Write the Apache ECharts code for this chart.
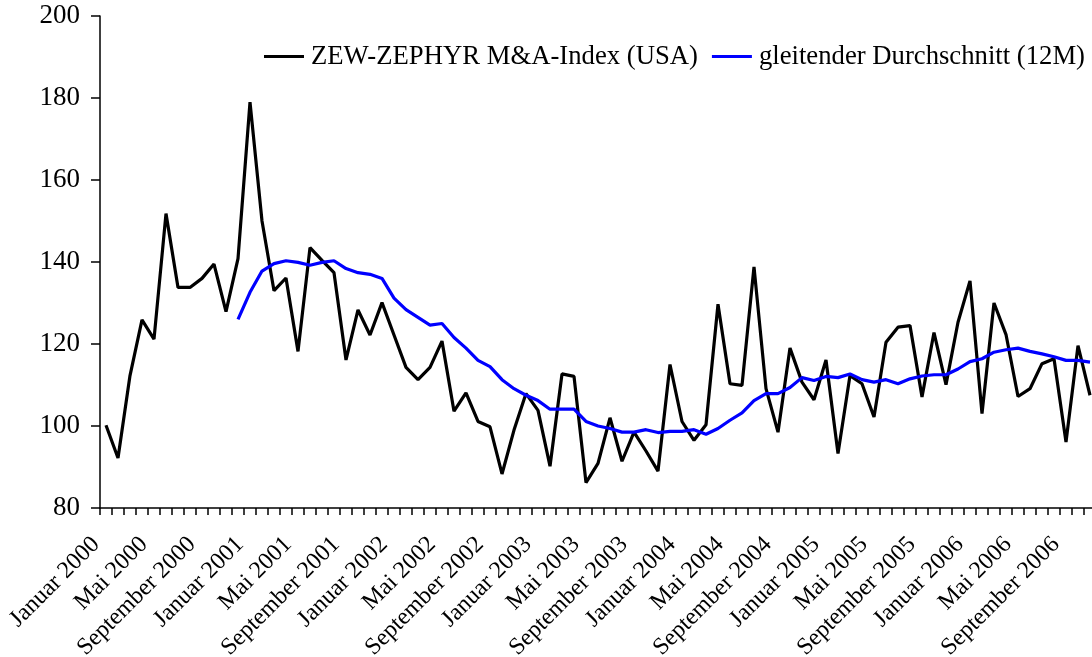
<!DOCTYPE html>
<html>
<head>
<meta charset="utf-8">
<script src="https://cdn.jsdelivr.net/npm/echarts@6/dist/echarts.min.js"></script>
<style>
html,body{margin:0;padding:0;background:#fff;overflow:hidden;}
#chart{width:1092px;height:657px;}
</style>
</head>
<body>
<div id="chart"></div>
<script>
const monthNames = ['Januar','Februar','März','April','Mai','Juni','Juli','August','September','Oktober','November','Dezember'];
const years = [2000, 2001, 2002, 2003, 2004, 2005, 2006];
const categories = [];
years.forEach(y => monthNames.forEach(m => categories.push(m + ' ' + y)));

const seriesNames = ['ZEW-ZEPHYR M&A-Index (USA)', 'gleitender Durchschnitt (12M)'];

const indexValues = [100.2, 92.2, 112.3, 125.9, 121.2, 151.8, 133.8, 133.8, 136.0, 139.5, 127.9, 140.8,
  179.0, 150.0, 133.0, 136.1, 118.2, 143.5, 140.4, 137.4, 116.1, 128.3, 122.2, 130.1,
  122.2, 114.3, 111.3, 114.3, 120.7, 103.6, 108.1, 101.1, 99.8, 88.3, 99.0, 107.9,
  103.8, 90.2, 112.7, 112.1, 86.2, 90.9, 102.0, 91.4, 98.5, 93.9, 89.0, 115.0,
  101.1, 96.5, 100.3, 129.7, 110.3, 109.9, 138.8, 109.1, 98.5, 119.0, 110.7, 106.4,
  116.1, 93.3, 112.3, 110.3, 102.2, 120.4, 124.1, 124.5, 107.1, 122.8, 110.1, 125.3,
  135.4, 103.0, 130.0, 122.3, 107.2, 109.1, 115.2, 116.4, 96.1, 119.6, 107.5];

const movingAvg = [null, null, null, null, null, null, null, null, null, null, null, 126.0,
  132.6, 137.8, 139.6, 140.3, 139.9, 139.2, 139.9, 140.3, 138.4, 137.4, 137.0, 136.0,
  131.2, 128.4, 126.5, 124.6, 125.0, 121.6, 119.0, 116.0, 114.5, 111.3, 109.1, 107.5,
  106.2, 104.1, 104.1, 104.1, 101.1, 100.0, 99.4, 98.5, 98.5, 99.1, 98.4, 98.7,
  98.7, 99.1, 98.0, 99.4, 101.4, 103.2, 106.2, 107.9, 107.9, 109.4, 111.8, 111.1,
  112.1, 111.8, 112.7, 111.3, 110.7, 111.3, 110.3, 111.5, 112.2, 112.5, 112.5, 113.9,
  115.7, 116.4, 118.0, 118.6, 119.0, 118.2, 117.6, 116.9, 116.0, 116.0, 115.6];

const yTicks = {min: 80, max: 200, interval: 20};

const font = 'Liberation Serif, Times New Roman, serif';
const chart = echarts.init(document.getElementById('chart'), null, {renderer: 'canvas'});
chart.setOption({
  animation: false,
  backgroundColor: '#ffffff',
  grid: {left: 100, top: 16, height: 492, width: 1008, containLabel: false, outerBoundsMode: 'none'},
  legend: {
    right: 2, top: 38,
    itemWidth: 40, itemHeight: 3, itemGap: 14,
    icon: 'rect',
    textStyle: {fontFamily: font, fontSize: 26.7, color: '#000', padding: [0, 0, 0, 2]},
    data: seriesNames
  },
  xAxis: {
    type: 'category',
    data: categories,
    boundaryGap: true,
    axisLine: {lineStyle: {color: '#000', width: 1.5}},
    axisTick: {show: true, interval: 0, length: 7, lineStyle: {color: '#000', width: 1.5}},
    axisLabel: {interval: 3, rotate: 45, margin: 23, padding: [0, 14, 0, 0], fontFamily: font, fontSize: 24, color: '#000'},
    splitLine: {show: false}
  },
  yAxis: {
    type: 'value',
    min: yTicks.min, max: yTicks.max, interval: yTicks.interval,
    axisLine: {show: true, lineStyle: {color: '#000', width: 1.5}},
    axisTick: {show: true, length: 9, lineStyle: {color: '#000', width: 1.5}},
    axisLabel: {margin: 20, fontFamily: font, fontSize: 27, color: '#000'},
    splitLine: {show: false}
  },
  series: [
    {name: seriesNames[0], type: 'line', data: indexValues, symbol: 'none',
     lineStyle: {color: '#000', width: 3.2}, itemStyle: {color: '#000'}, z: 2},
    {name: seriesNames[1], type: 'line', data: movingAvg, symbol: 'none',
     lineStyle: {color: '#0000ff', width: 3.2}, itemStyle: {color: '#0000ff'}, z: 3}
  ]
});
</script>
</body>
</html>
